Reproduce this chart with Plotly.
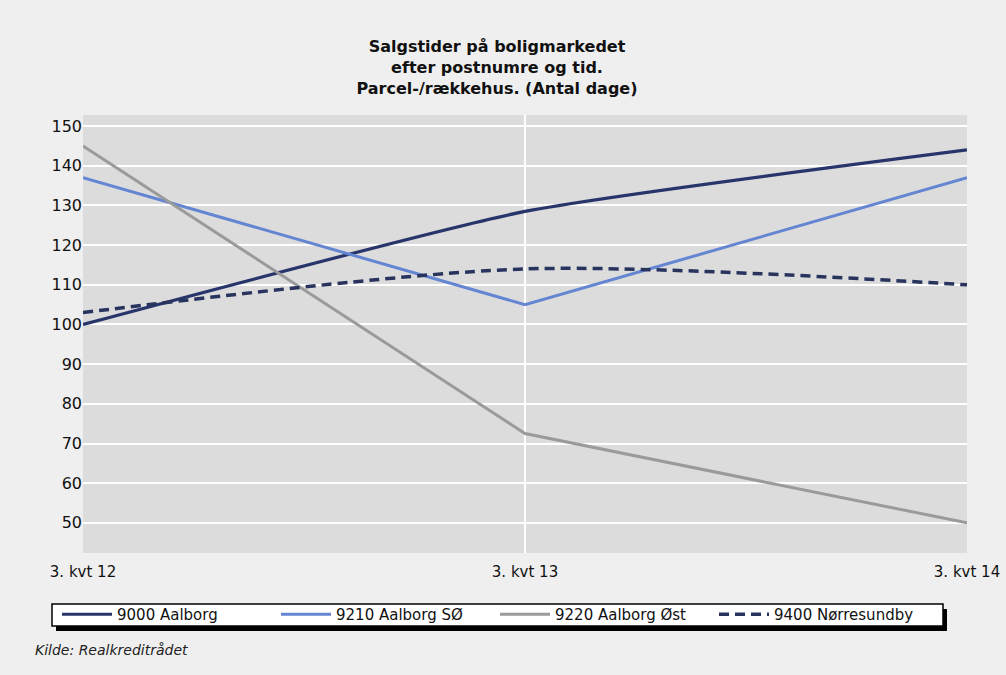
import plotly.graph_objects as go

categories = ["3. kvt 12", "3. kvt 13", "3. kvt 14"]
s9000 = [100, 128.5, 144]
s9210 = [137, 105, 137]
s9220 = [145, 72.5, 50]
s9400 = [103, 114, 110]
names = ["9000 Aalborg", "9210 Aalborg SØ", "9220 Aalborg Øst", "9400 Nørresundby"]
title_lines = ["Salgstider på boligmarkedet", "efter postnumre og tid.", "Parcel-/rækkehus. (Antal dage)"]
source = "Kilde: Realkreditrådet"

W, H = 1006, 675
L, R, T, B = 83, 967, 115, 553  # plot area in pixels


def px(x):
    return (x - L) / (R - L)


def py(y):
    return (B - y) / (B - T)


FONT = "DejaVu Sans"

fig = go.Figure()
fig.add_trace(go.Scatter(x=categories, y=s9000, name=names[0], mode="lines",
                         line=dict(color="#28356a", width=3.2, shape="spline", smoothing=0.5)))
fig.add_trace(go.Scatter(x=categories, y=s9210, name=names[1], mode="lines",
                         line=dict(color="#6486d2", width=3)))
fig.add_trace(go.Scatter(x=categories, y=s9220, name=names[2], mode="lines",
                         line=dict(color="#9a9a9a", width=3)))
fig.add_trace(go.Scatter(x=categories, y=s9400, name=names[3], mode="lines", legendwidth=190,
                         line=dict(color="#28345e", width=3.5, dash="10px,6px",
                                   shape="spline", smoothing=0.8)))

# legend shadow and box
fig.add_shape(type="rect", xref="paper", yref="paper",
              x0=px(56), x1=px(947), y0=py(609), y1=py(631),
              fillcolor="black", line=dict(width=0), layer="above")
fig.add_shape(type="rect", xref="paper", yref="paper",
              x0=px(52), x1=px(943), y0=py(604), y1=py(626),
              fillcolor="white", line=dict(width=1.5, color="black"), layer="above")

fig.add_annotation(text=source, xref="paper", yref="paper", x=px(33), y=py(650),
                   xanchor="left", yanchor="middle", showarrow=False,
                   font=dict(family=FONT, size=14, color="#222222", style="italic"))

fig.update_layout(
    width=W, height=H,
    margin=dict(l=L, r=W - R, t=T, b=H - B, autoexpand=False),
    paper_bgcolor="#efefef",
    plot_bgcolor="#dcdcdc",
    title=dict(text="<br>".join(title_lines), x=497 / W, xref="container", xanchor="center",
               y=1 - 52 / H, yref="container", yanchor="middle",
               font=dict(family=FONT, size=16, color="#111111", weight="bold")),
    showlegend=True,
    legend=dict(orientation="h", x=px(57), y=py(598), xanchor="left", yanchor="top",
                bgcolor="rgba(0,0,0,0)", borderwidth=0,
                font=dict(family=FONT, size=15, color="#111111"),
                entrywidth=154, entrywidthmode="pixels", itemwidth=50,
                traceorder="normal"),
    xaxis=dict(type="category", range=[0, 2], showgrid=True, gridcolor="white", gridwidth=2,
               showline=False, zeroline=False, ticks="", ticklabelstandoff=8,
               tickfont=dict(family=FONT, size=15, color="#111111")),
    yaxis=dict(range=[42.4, 152.8], dtick=10, tick0=50, showgrid=True, gridcolor="white",
               gridwidth=2, showline=False, zeroline=False, ticks="",
               tickfont=dict(family=FONT, size=16, color="#111111")),
)

fig.write_html("out.html", config={"displayModeBar": False},
               post_script="document.body.style.margin='0';document.body.style.background='#efefef';")
